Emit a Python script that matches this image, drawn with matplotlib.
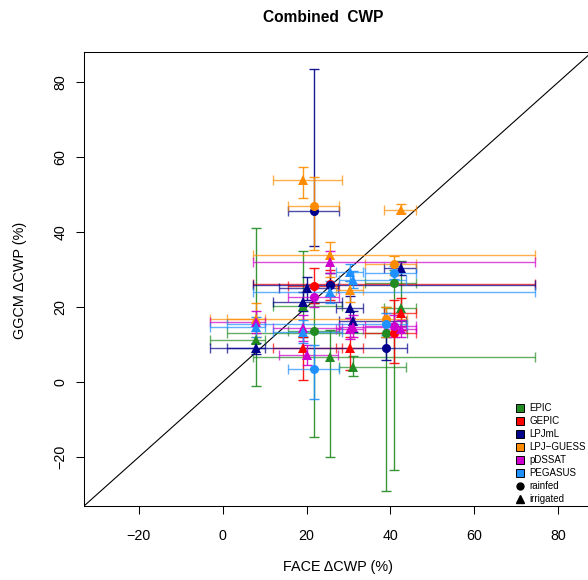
import matplotlib
matplotlib.use("Agg")
import matplotlib.pyplot as plt
from matplotlib.lines import Line2D

plt.rcParams["font.family"] = ["Liberation Sans", "DejaVu Sans"]

# FACE experiments: observed change in CWP (x) and its range
face_x = [8.0, 19.2, 20.0, 21.8, 25.7, 25.7, 30.3, 31.1, 39.0, 40.9, 42.5]
face_lo = [-3.0, 12.0, 13.5, 15.7, 7.3, 7.3, 27.1, 27.8, 1.0, 34.0, 38.5]
face_hi = [10.0, 28.5, 27.5, 27.7, 74.4, 74.4, 33.5, 43.6, 44.0, 46.0, 46.0]
face_irrigated = [True, True, True, False, True, False, True, True, False, False, True]

models = ["EPIC", "GEPIC", "LPJmL", "LPJ\u2212GUESS", "pDSSAT", "PEGASUS"]
model_colors = ["#228B22", "#FF0000", "#00008B", "#FF8C00", "#CD00CD", "#1E90FF"]

# per model: experiment index, simulated change, lower / upper
epic_idx = [0, 1, 3, 4, 7, 8, 9, 10]
epic_y = [11.2, 20.3, 13.6, 6.8, 4.1, 13.0, 26.5, 19.8]
epic_lo = [-1.0, 12.0, -14.6, -19.9, 1.6, -29.0, -23.3, 15.0]
epic_hi = [41.1, 35.0, 21.0, 14.0, 7.0, 20.0, 30.0, 32.3]

gepic_idx = [1, 3, 5, 6, 9, 10]
gepic_y = [9.2, 25.7, 26.3, 9.0, 13.0, 18.5]
gepic_lo = [0.7, 21.0, 22.0, 3.2, 5.0, 14.0]
gepic_hi = [12.1, 30.5, 30.0, 12.1, 22.0, 22.5]

lpjml_idx = [0, 1, 2, 3, 5, 6, 7, 8, 10]
lpjml_y = [9.0, 21.4, 25.0, 45.7, 26.0, 19.9, 16.3, 9.0, 30.3]
lpjml_lo = [7.5, 19.0, 22.0, 36.3, 23.0, 17.0, 13.5, 6.0, 28.5]
lpjml_hi = [10.5, 24.0, 28.0, 83.4, 29.0, 23.0, 19.0, 12.0, 32.0]

guess_idx = [0, 1, 3, 4, 6, 8, 9, 10]
guess_y = [16.8, 54.0, 47.0, 33.9, 24.5, 16.8, 31.4, 46.0]
guess_lo = [12.1, 49.0, 35.2, 28.0, 21.5, 12.0, 28.5, 45.0]
guess_hi = [21.0, 57.4, 54.8, 37.3, 27.0, 20.0, 33.5, 47.4]

pdssat_idx = [0, 1, 2, 3, 4, 6, 7, 9, 10]
pdssat_y = [16.0, 14.5, 7.2, 22.8, 32.1, 14.3, 14.8, 14.9, 14.1]
pdssat_lo = [13.0, 11.0, 4.5, 20.0, 29.0, 11.5, 12.0, 12.0, 12.0]
pdssat_hi = [19.0, 18.0, 10.0, 25.5, 35.0, 17.0, 18.0, 18.0, 16.5]

pegasus_idx = [0, 1, 3, 4, 6, 7, 8, 9]
pegasus_y = [14.8, 13.4, 3.4, 24.1, 29.4, 27.2, 15.6, 29.2]
pegasus_lo = [12.0, 10.5, -4.5, 21.0, 27.0, 25.0, 12.5, 27.5]
pegasus_hi = [17.5, 16.5, 10.0, 27.0, 31.5, 29.5, 18.5, 31.0]

model_data = [
    (epic_idx, epic_y, epic_lo, epic_hi),
    (gepic_idx, gepic_y, gepic_lo, gepic_hi),
    (lpjml_idx, lpjml_y, lpjml_lo, lpjml_hi),
    (guess_idx, guess_y, guess_lo, guess_hi),
    (pdssat_idx, pdssat_y, pdssat_lo, pdssat_hi),
    (pegasus_idx, pegasus_y, pegasus_lo, pegasus_hi),
]

W, H = 588, 580
fig = plt.figure(figsize=(W / 100, H / 100), dpi=100)
ax = fig.add_axes([84 / W, 74 / H, 508 / W, 454 / H])
ax.set_xlim(-33, 88)
ax.set_ylim(-33, 88)

ax.axline((0, 0), slope=1, color="black", lw=0.8, zorder=1)

for (idx, ys, los, his), col in zip(model_data, model_colors):
    for i, y, lo, hi in zip(idx, ys, los, his):
        x = face_x[i]
        xe = [[x - face_lo[i]], [face_hi[i] - x]]
        ye = [[y - lo], [hi - y]]
        ax.errorbar([x], [y], xerr=xe, fmt="none", ecolor=col, alpha=0.7,
                    elinewidth=1.0, capsize=3.6, capthick=1.0, zorder=2)
        ax.errorbar([x], [y], yerr=ye, fmt="none", ecolor=col, alpha=0.9,
                    elinewidth=1.0, capsize=3.6, capthick=1.0, zorder=2)
        marker = "^" if face_irrigated[i] else "o"
        ax.plot([x], [y], marker=marker, color=col, ms=6.5, mew=0, ls="none", zorder=3)

ax.set_xticks(range(-20, 81, 20))
ax.set_yticks(range(-20, 81, 20))
ax.tick_params(axis="both", direction="out", length=5.8, width=0.75, labelsize=10.3)
ax.tick_params(axis="x", pad=11)
ax.tick_params(axis="y", pad=6)
for lab in ax.get_yticklabels():
    lab.set_rotation(90)
    lab.set_va("center")
for s in ax.spines.values():
    s.set_linewidth(0.75)

fig.text(323 / W, 1 - 18 / H, "Combined  CWP", ha="center", va="center",
         fontsize=11.2, fontweight="bold")
fig.text(338 / W, 1 - 567 / H, "FACE \u0394CWP (%)", ha="center", va="center", fontsize=10.4)
fig.text(20 / W, 1 - 280 / H, "GGCM \u0394CWP (%)", ha="center", va="center",
         rotation=90, fontsize=10.4)

handles = [Line2D([], [], marker="s", ls="none", mfc=c, mec="black", mew=0.7, ms=5.5)
           for c in model_colors]
handles.append(Line2D([], [], marker="o", ls="none", color="black", ms=5))
handles.append(Line2D([], [], marker="^", ls="none", color="black", ms=5.5))
labels = models + ["rainfed", "irrigated"]
fig.legend(handles, labels, loc="upper left", bbox_to_anchor=(516 / W, 1 - 403 / H),
           frameon=False, fontsize=7, handlelength=0.8, handletextpad=0.6,
           labelspacing=0.31, borderpad=0, borderaxespad=0)

fig.savefig("out.png", dpi=100)
